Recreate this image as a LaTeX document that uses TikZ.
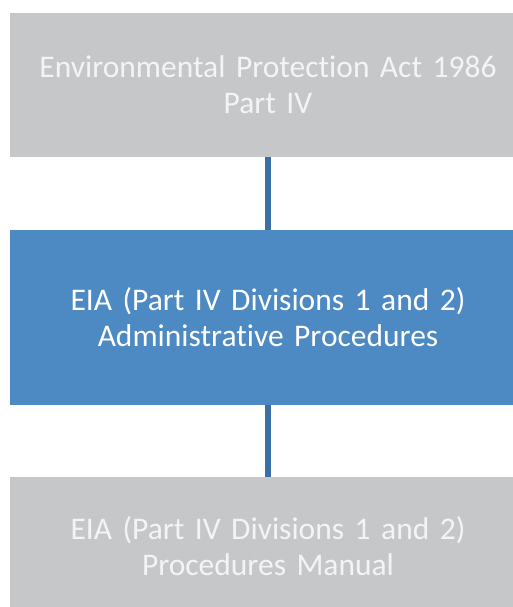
\documentclass[tikz,border=0pt]{standalone}
\usepackage{fontspec}
\setmainfont{Carlito}[Ligatures=NoCommon]
\usepackage{tikz}
\usetikzlibrary{positioning}
\definecolor{actgray}{HTML}{C6C7C9}
\definecolor{procblue}{HTML}{4D89C2}
\definecolor{linkblue}{HTML}{3B70A6}
\definecolor{softwhite}{HTML}{F4F4F4}
\tikzset{
  levelbox/.style={fill=actgray, text=softwhite, minimum width=516pt, text width=500pt,
    align=center, inner sep=0pt, font=\fontsize{31.5}{36}\selectfont},
  link/.style={draw=linkblue, line width=6pt}
}

\begin{document}
\begin{tikzpicture}[x=1pt,y=1pt]
 \useasboundingbox (0,0) rectangle (513,-607);
 \clip (0,0) rectangle (513,-607);
 \node[levelbox, minimum height=144pt] (act) at (268,-85) {Environmental Protection Act 1986\\Part IV};
 \node[levelbox, fill=procblue, text=white, minimum height=175pt] (admin) at (268,-317.5) {EIA (Part IV Divisions 1 and 2)\\Administrative Procedures};
 \node[levelbox, minimum height=138pt] (manual) at (268,-546) {EIA (Part IV Divisions 1 and 2)\\Procedures Manual};
 \draw[link] (act) -- (admin);
 \draw[link] (admin) -- (manual);
\end{tikzpicture}
\end{document}
